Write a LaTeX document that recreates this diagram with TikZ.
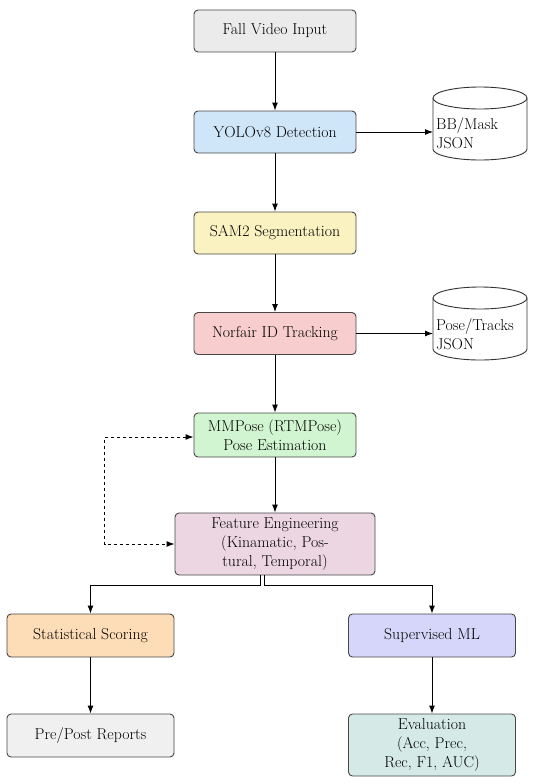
\documentclass[tikz,border=0pt]{standalone}
\usetikzlibrary{arrows.meta,calc}
\begin{document}
\begin{tikzpicture}[x=1pt,y=-1pt,
  box/.style={draw=black!72,line width=0.9pt,rounded corners=4pt,align=center,
    font=\fontsize{15.8}{19}\selectfont,inner sep=2pt},
  mainbox/.style={box,minimum width=162pt,minimum height=42pt},
  sidebox/.style={box,minimum width=167pt,minimum height=43pt},
  dbtext/.style={align=left,font=\fontsize{15.8}{19}\selectfont,inner sep=3pt,
    minimum width=94pt,minimum height=40pt,anchor=west,text width=88pt},
  arr/.style={line width=1pt,-{Latex[length=8pt,width=6pt]}},
  cyl/.style={line width=0.9pt,draw=black!80,fill=white}]
\useasboundingbox (0,0) rectangle (550,784);
\definecolor{cGray}{HTML}{EBEBEB}
\definecolor{cBlue}{HTML}{CFE6F8}
\definecolor{cYel}{HTML}{FBF2C2}
\definecolor{cRed}{HTML}{F7CDCD}
\definecolor{cGreen}{HTML}{D0F5D0}
\definecolor{cPink}{HTML}{ECD6E1}
\definecolor{cOrange}{HTML}{FDDDB7}
\definecolor{cLav}{HTML}{D6D6FA}
\definecolor{cGray2}{HTML}{F0F0F0}
\definecolor{cTeal}{HTML}{D5EAE7}

\node[mainbox,fill=cGray] (fvi) at (275,31) {Fall Video Input};
\node[mainbox,fill=cBlue] (yolo) at (275,132) {YOLOv8 Detection};
\node[mainbox,fill=cYel] (sam) at (275,233) {SAM2 Segmentation};
\node[mainbox,fill=cRed] (nor) at (275,333.5) {Norfair ID Tracking};
\node[mainbox,fill=cGreen,minimum height=44pt] (mm) at (275,435) {MMPose (RTMPose)\\Pose Estimation};
\node[box,fill=cPink,minimum width=200pt,minimum height=62pt] (fe) at (275,544) {Feature Engineering\\(Kinamatic, Pos-\\tural, Temporal)};
\node[sidebox,fill=cOrange] (ss) at (90.5,635.5) {Statistical Scoring};
\node[sidebox,fill=cLav] (sml) at (432,635.5) {Supervised ML};
\node[sidebox,fill=cGray2] (pp) at (90.5,735.5) {Pre/Post Reports};
\node[sidebox,fill=cTeal,minimum height=62pt] (ev) at (432,745) {Evaluation\\(Acc, Prec,\\Rec, F1, AUC)};

% cylinders
\draw[cyl] (433,98) -- (433,149) arc[start angle=180,end angle=360,x radius=47pt,y radius=11pt] -- (527,98);
\draw[cyl] (480,98) ellipse [x radius=47pt,y radius=11pt];
\node[dbtext] (db1) at (433,133.5) {BB/Mask\\JSON};
\draw[cyl] (433,298) -- (433,349) arc[start angle=180,end angle=360,x radius=47pt,y radius=11pt] -- (527,298);
\draw[cyl] (480,298) ellipse [x radius=47pt,y radius=11pt];
\node[dbtext] (db2) at (433,334.5) {Pose/Tracks\\JSON};

% connectors
\draw[arr] (fvi) -- (yolo);
\draw[arr] (yolo) -- (sam);
\draw[arr] (sam) -- (nor);
\draw[arr] (nor) -- (mm);
\draw[arr] (mm) -- (fe);
\draw[arr] (yolo.east) -- (yolo.east -| db1.west);
\draw[arr] (nor.east) -- (nor.east -| db2.west);
\draw[line width=1pt,dashed,{Latex[length=8pt,width=6pt]}-{Latex[length=8pt,width=6pt]}]
  ([yshift=-2pt]mm.west) -- ++(-89,0) |- (fe.west);
\draw[arr] ([xshift=-15pt]fe.south) -- ++(0,10) -| (ss.north);
\draw[arr] ([xshift=-11pt]fe.south) -- ++(0,10) -| (sml.north);
\draw[arr] (ss) -- (pp);
\draw[arr] (sml) -- (ev);
\end{tikzpicture}
\end{document}
